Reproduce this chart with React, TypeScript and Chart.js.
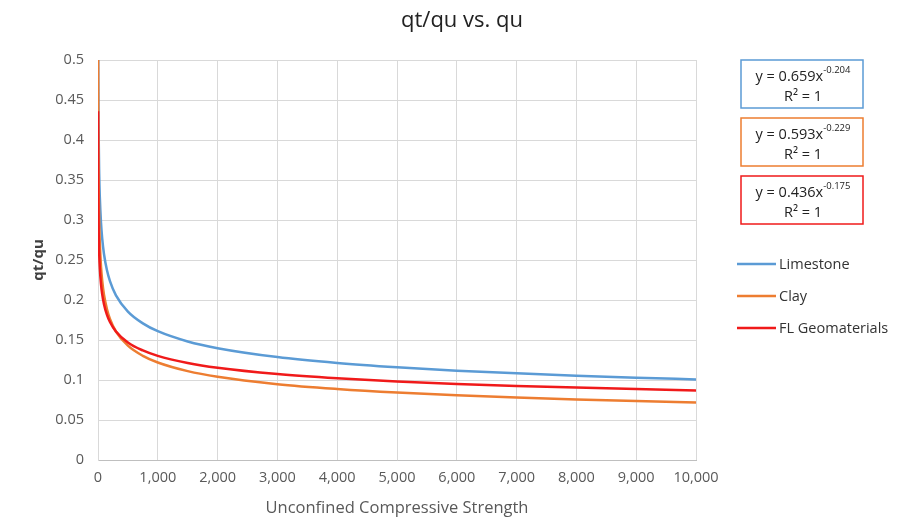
import React, { useEffect, useRef } from "react";
import { Chart, registerables } from "chart.js";

Chart.register(...registerables);

const xValues = [1, 2, 5, 10, 20, 30, 50, 70, 100, 150, 200, 300, 500, 750, 1000, 1500, 2000, 3000, 4000, 5000, 6000, 7000, 8000, 9000, 10000];
const limestone = [0.659, 0.572, 0.4746, 0.412, 0.3577, 0.3293, 0.2967, 0.277, 0.2575, 0.2371, 0.2236, 0.2058, 0.1855, 0.1708, 0.161, 0.1482, 0.1398, 0.1287, 0.1214, 0.116, 0.1117, 0.1083, 0.1054, 0.1029, 0.1007];
const clay = [0.593, 0.506, 0.4102, 0.35, 0.2986, 0.2721, 0.2421, 0.2241, 0.2065, 0.1883, 0.1762, 0.1606, 0.1429, 0.1302, 0.1219, 0.1111, 0.104, 0.0948, 0.0888, 0.0843, 0.0809, 0.0781, 0.0757, 0.0737, 0.0719];
const flGeo = [0.436, 0.3862, 0.329, 0.2914, 0.2581, 0.2405, 0.2199, 0.2073, 0.1948, 0.1814, 0.1725, 0.1607, 0.1469, 0.1369, 0.1301, 0.1213, 0.1153, 0.1074, 0.1021, 0.0982, 0.0951, 0.0926, 0.0905, 0.0886, 0.087];

const seriesNames = ["Limestone", "Clay", "FL Geomaterials"];
const seriesColors = ["#5B9BD5", "#ED7D31", "#F01A1A"];
const seriesOrder = [3, 2, 1];
const eqCoef = ["0.659", "0.593", "0.436"];
const eqExp = ["-0.204", "-0.229", "-0.175"];

const chartTitle = "qt/qu vs. qu";
const xTitle = "Unconfined Compressive Strength";
const yTitle = "qt/qu";

const FONT = "'Open Sans', sans-serif";

export default function App() {
  const ref = useRef<HTMLCanvasElement>(null);
  useEffect(() => {
    const ctx = ref.current!.getContext("2d")!;
    const mk = (ys: number[]) => xValues.map((x, i) => ({ x, y: ys[i] }));
    const overlay = {
      id: "overlay",
      afterDraw(chart: any) {
        const c = chart.ctx;
        c.save();
        // title
        c.fillStyle = "#222";
        c.font = `22px ${FONT}`;
        c.textAlign = "center";
        c.textBaseline = "middle";
        c.fillText(chartTitle, 462, 21);
        // equation boxes
        for (let i = 0; i < 3; i++) {
          const top = 60 + i * 58;
          c.strokeStyle = seriesColors[i];
          c.lineWidth = 1.5;
          c.strokeRect(741, top, 122, 48);
          c.fillStyle = "#222";
          c.textBaseline = "alphabetic";
          c.textAlign = "left";
          const main = `y = ${eqCoef[i]}x`;
          c.font = `14.5px ${FONT}`;
          const mw = c.measureText(main).width;
          c.font = `9.5px ${FONT}`;
          const ew = c.measureText(eqExp[i]).width;
          const startX = 803 - (mw + ew) / 2;
          c.font = `14.5px ${FONT}`;
          c.fillText(main, startX, top + 21);
          c.font = `9.5px ${FONT}`;
          c.fillText(eqExp[i], startX + mw, top + 13);
          c.font = `14.5px ${FONT}`;
          c.textAlign = "center";
          c.fillText("R² = 1", 803, top + 41);
        }
        // legend
        for (let i = 0; i < 3; i++) {
          const y = 264 + i * 32;
          c.strokeStyle = seriesColors[i];
          c.lineWidth = 2.5;
          c.beginPath();
          c.moveTo(737, y);
          c.lineTo(776, y);
          c.stroke();
          c.fillStyle = "#333";
          c.font = `14.5px ${FONT}`;
          c.textAlign = "left";
          c.textBaseline = "middle";
          c.fillText(seriesNames[i], 779, y + 1);
        }
        c.restore();
      },
    };
    const chart = new Chart(ctx, {
      type: "scatter",
      data: {
        datasets: [limestone, clay, flGeo].map((ys, i) => ({
          label: seriesNames[i],
          data: mk(ys),
          showLine: true,
          borderColor: seriesColors[i],
          backgroundColor: seriesColors[i],
          borderWidth: 2.5,
          pointRadius: 0,
          cubicInterpolationMode: "monotone" as const,
          order: seriesOrder[i],
        })),
      },
      options: {
        animation: false,
        responsive: false,
        maintainAspectRatio: false,
        layout: { padding: { top: 60, left: 0, right: 219, bottom: 0 } },
        plugins: { legend: { display: false }, title: { display: false }, tooltip: { enabled: false } },
        scales: {
          x: {
            type: "linear",
            min: 0,
            max: 10000,
            ticks: {
              stepSize: 1000,
              color: "#595959",
              font: { family: FONT, size: 14.5 },
              padding: 9,
              callback: (v: any) => Number(v).toLocaleString("en-US"),
              maxRotation: 0,
            },
            grid: { color: "#d9d9d9", drawTicks: false },
            border: { color: "#bfbfbf" },
            title: { display: true, text: xTitle, color: "#595959", font: { family: FONT, size: 16.5 }, padding: { top: 0, bottom: 0 } },
            afterFit: (s: any) => { s.height = 58; },
          },
          y: {
            min: 0,
            max: 0.5,
            ticks: {
              stepSize: 0.05,
              color: "#595959",
              font: { family: FONT, size: 14.5 },
              padding: 14,
              callback: (v: any) => String(+Number(v).toFixed(2)),
            },
            grid: { color: "#d9d9d9", drawTicks: false },
            border: { color: "#d9d9d9" },
            title: { display: true, text: yTitle, color: "#404040", font: { family: FONT, size: 15, weight: "bold" }, padding: { top: 30, bottom: 0 } },
            afterFit: (s: any) => { s.width = 98; },
          },
        },
      },
      plugins: [overlay],
    });
    return () => chart.destroy();
  }, []);
  return (
    <div style={{ position: "fixed", left: 0, top: 0, width: 915, height: 518, background: "#fff" }}>
      <canvas ref={ref} width={915} height={518} style={{ display: "block" }} />
    </div>
  );
}
